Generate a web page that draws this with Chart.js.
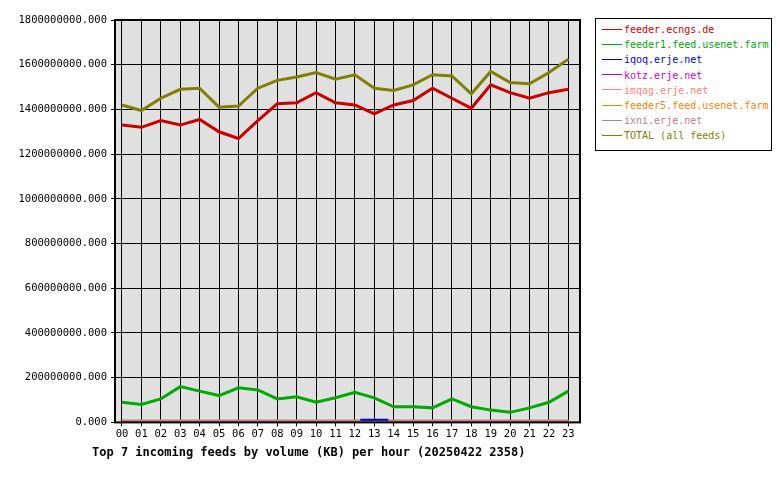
<!DOCTYPE html>
<html><head><meta charset="utf-8">
<script src="https://cdn.jsdelivr.net/npm/chart.js@4"></script>
<style>
body{margin:0;background:#fff;font-family:"DejaVu Sans Mono",monospace;}
#wrap{position:relative;width:780px;height:480px;}
#c{position:absolute;left:0;top:0;}
#legend{position:absolute;left:595px;top:18px;width:177px;height:133px;border:1px solid #000;box-sizing:border-box;padding:3px 0 0 6px;font-size:10px;line-height:15.2px;background:#fff;}
#legend div{white-space:nowrap;}
#legend span.k{display:inline-block;width:20px;height:1px;vertical-align:middle;margin-right:2px;position:relative;top:-1px;}
#caption{position:absolute;left:92px;top:445px;font-size:12px;font-weight:bold;}
</style></head><body>
<div id="wrap"><canvas id="c" width="596" height="480"></canvas><div id="legend"></div>
<div id="caption">Top 7 incoming feeds by volume (KB) per hour (20250422 2358)</div></div>
<script>
const hours = ['00','01','02','03','04','05','06','07','08','09','10','11','12','13','14','15','16','17','18','19','20','21','22','23'];
const feedNames = ['feeder.ecngs.de','feeder1.feed.usenet.farm','iqoq.erje.net','kotz.erje.net','imqag.erje.net','feeder5.feed.usenet.farm','ixni.erje.net','TOTAL (all feeds)'];
const feedColors = ['#cc0000','#00aa00','#0000cc','#cc00cc','#ff8080','#ff8000','#c08080','#808000'];
const ecngs = [1.33,1.32,1.35,1.33,1.355,1.30,1.27,1.35,1.425,1.43,1.475,1.43,1.42,1.38,1.42,1.44,1.495,1.45,1.405,1.51,1.475,1.45,1.475,1.49].map(v => v * 1e9);
const usenetFarm = [0.09,0.08,0.105,0.16,0.14,0.12,0.155,0.145,0.105,0.115,0.09,0.11,0.135,0.11,0.07,0.07,0.065,0.105,0.07,0.055,0.045,0.065,0.09,0.14].map(v => v * 1e9);
const iqoq = [null,null,null,null,null,null,null,null,null,null,null,null,null,0.012e9,null,null,null,null,null,null,null,null,null,null];
const smallFeed = hours.map(() => 0.004e9);
const total = [1.42,1.395,1.45,1.49,1.495,1.41,1.415,1.495,1.53,1.545,1.565,1.535,1.555,1.495,1.485,1.51,1.555,1.55,1.47,1.57,1.52,1.515,1.565,1.625].map(v => v * 1e9);

const seriesData = [ecngs, usenetFarm, iqoq, smallFeed, smallFeed, smallFeed, smallFeed, total];

document.getElementById('legend').innerHTML = feedNames.map((n, i) =>
  `<div style="color:${feedColors[i]}"><span class="k" style="background:${feedColors[i]}"></span>${n}</div>`).join('');

const plotBg = {
  id: 'plotBg',
  beforeDraw(chart) {
    const a = chart.chartArea, ctx = chart.ctx;
    ctx.save(); ctx.fillStyle = '#e0e0e0';
    ctx.fillRect(a.left, a.top, a.right - a.left, a.bottom - a.top);
    ctx.restore();
  },
  afterDraw(chart) {
    const a = chart.chartArea, ctx = chart.ctx;
    ctx.save(); ctx.strokeStyle = '#000'; ctx.lineWidth = 2;
    ctx.strokeRect(a.left, a.top, a.right - a.left, a.bottom - a.top);
    ctx.restore();
  }
};

const drawOrder = [1, 2, 3, 5, 5, 5, 4, 0];
const datasets = seriesData.map((d, i) => ({
  label: feedNames[i],
  data: d.map((v, h) => ({ x: h, y: v })),
  borderColor: feedColors[i],
  backgroundColor: feedColors[i],
  borderWidth: i === 2 ? 2 : (i === 6 ? 4 : 3),
  pointRadius: i === 2 ? 14 : 0,
  pointStyle: 'line',
  pointBorderWidth: 2,
  tension: 0,
  order: drawOrder[i]
}));

Chart.defaults.font.family = '"DejaVu Sans Mono", monospace';
Chart.defaults.font.size = 10.5;
Chart.defaults.color = '#000';

new Chart(document.getElementById('c'), {
  type: 'line',
  data: { datasets },
  plugins: [plotBg],
  options: {
    responsive: false,
    animation: false,
    layout: { padding: { top: 20, right: 9, bottom: 37, left: 0 } },
    plugins: { legend: { display: false }, tooltip: { enabled: false } },
    scales: {
      x: {
        type: 'linear', min: -0.36, max: 23.6,
        afterBuildTicks: ax => { ax.ticks = hours.map((h, i) => ({ value: i })); },
        ticks: { callback: v => hours[v], maxRotation: 0, autoSkip: false, padding: 2 },
        grid: { color: '#000', lineWidth: 1, drawTicks: true, tickLength: 4 },
        border: { display: false }
      },
      y: {
        min: 0, max: 1.8e9,
        afterFit: ax => { ax.width = 115; },
        ticks: { stepSize: 2e8, callback: v => v.toFixed(3), padding: 4 },
        grid: { color: '#000', lineWidth: 1, tickLength: 4 },
        border: { display: false }
      }
    }
  }
});
</script></body></html>
